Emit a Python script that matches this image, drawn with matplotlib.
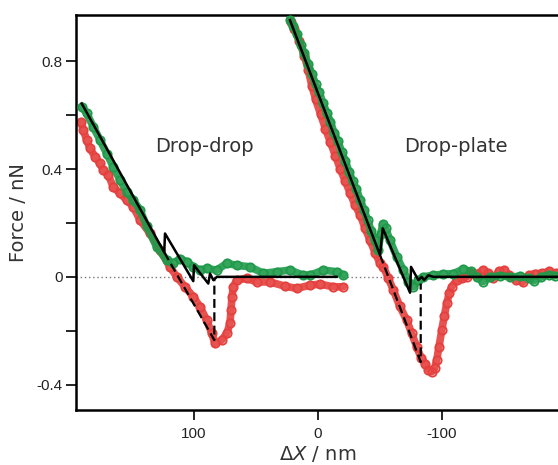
import matplotlib
matplotlib.use("Agg")
import matplotlib.pyplot as plt

# Drop-drop (left curves)
dd_green_x = [190.6, 186.5, 181.2, 175.8, 170.4, 165.1, 159.7, 154.3, 149.0, 143.5, 138.1, 130.1,
              122.0, 116.7, 111.3, 105.9, 100.6, 95.2, 89.8, 81.7, 73.6, 65.6, 54.8, 44.1, 33.3,
              22.6, 11.9, 6.5, -4.3, -15.1, -20.4]
dd_green_y = [0.632, 0.607, 0.557, 0.508, 0.458, 0.409, 0.360, 0.316, 0.285, 0.248, 0.188, 0.111,
              0.062, 0.050, 0.068, 0.056, 0.037, 0.025, 0.031, 0.025, 0.050, 0.043, 0.037, 0.013, 0.019,
              0.025, 0.006, 0.006, 0.025, 0.019, 0.006]
dd_red_x = [191.1, 189.3, 186.5, 183.9, 179.8, 175.8, 173.1, 169.1, 165.1, 159.7, 154.3, 149.0,
            143.5, 135.5, 127.4, 119.4, 113.9, 107.3, 100.6, 95.2, 89.8, 85.7, 83.1, 77.7, 73.6,
            71.0, 70.2, 69.4, 68.3, 65.6, 57.5, 49.4, 38.7, 26.4, 17.2, 6.5, -1.6, -12.3, -20.4]
dd_red_y = [0.576, 0.545, 0.508, 0.477, 0.446, 0.421, 0.396, 0.378, 0.334, 0.310, 0.285, 0.260,
            0.211, 0.161, 0.099, 0.037, 0.0, -0.037, -0.074, -0.111, -0.161, -0.210, -0.247, -0.235, -0.210,
            -0.173, -0.124, -0.074, -0.037, -0.012, -0.006, -0.019, -0.019, -0.035, -0.043, -0.031, -0.027, -0.037, -0.037]
dd_fit_x = [190.6, 124.0, 123.4, 100.6, 100.0, 88.5, 87.1, 84.4, 81.5, -15.0]
dd_fit_y = [0.644, 0.091, 0.161, -0.016, 0.043, -0.025, 0.012, -0.012, 0.0, 0.0]
dd_dash_x = [124.0, 83.6, 83.6]
dd_dash_y = [0.091, -0.235, -0.005]

# Drop-plate (right curves)
dp_green_x = [23.0, 20.0, 17.0, 14.0, 11.0, 8.0, 5.0, 2.0, -1.0, -4.0, -7.0, -10.0, -13.0, -16.0,
              -19.0, -22.0, -25.0, -28.0, -31.0, -34.0, -37.0, -40.0, -43.0, -46.0, -48.6, -50.5,
              -52.2, -54.5, -58.0, -63.5, -68.8, -72.8, -76.9, -80.9, -84.9, -93.0, -101.0, -109.0,
              -117.0, -123.0, -128.0, -133.0, -139.0, -147.0, -155.0, -163.0, -170.0, -174.0, -180.0,
              -186.0, -191.0]
dp_green_y = [0.955, 0.93, 0.90, 0.86, 0.83, 0.79, 0.755, 0.715, 0.685, 0.645, 0.61, 0.575, 0.535, 0.505,
              0.465, 0.43, 0.39, 0.355, 0.325, 0.285, 0.25, 0.21, 0.17, 0.135, 0.10, 0.16,
              0.195, 0.18, 0.136, 0.074, 0.025, -0.019, -0.037, -0.012, 0.0, 0.006, 0.010, 0.012,
              0.028, 0.02, 0.0, -0.018, 0.0, 0.004, 0.0, 0.002, -0.005, -0.015, 0.0,
              0.008, 0.004]
dp_red_x = [22.0, 19.0, 15.0, 11.0, 8.0, 5.0, 2.0, -2.0, -6.0, -10.0, -14.0, -18.0, -22.0, -26.0,
            -30.0, -34.0, -38.0, -42.0, -46.0, -50.0, -52.7, -56.7, -60.7, -66.0, -71.5, -75.5,
            -79.6, -83.0, -86.3, -89.0, -91.7, -94.0, -95.7, -97.5, -99.8, -101.8, -103.8, -105.8,
            -107.8, -111.8, -116.0, -120.0, -124.0, -128.0, -133.0, -137.0, -141.0, -146.0, -150.0,
            -154.0, -160.0, -165.0, -170.0, -175.0, -181.0, -186.0, -192.0]
dp_red_y = [0.945, 0.92, 0.875, 0.82, 0.77, 0.71, 0.66, 0.605, 0.55, 0.50, 0.45, 0.40, 0.355, 0.31,
            0.265, 0.23, 0.18, 0.135, 0.09, 0.05, 0.037, -0.005, -0.049, -0.11, -0.161, -0.21,
            -0.26, -0.30, -0.322, -0.345, -0.353, -0.34, -0.309, -0.26, -0.198, -0.145, -0.099, -0.06,
            -0.037, -0.012, -0.006, 0.0, 0.015, 0.01, 0.025, 0.015, -0.005, 0.02, 0.025,
            0.005, -0.012, -0.02, 0.005, 0.012, 0.013, 0.02, 0.013]
dp_fit_x = [22.6, -50.0, -52.2, -74.2, -75.0, -80.9, -83.6, -85.5, -89.0, -93.0, -200.0]
dp_fit_y = [0.953, 0.081, 0.180, -0.059, 0.037, -0.012, 0.0, -0.012, 0.006, 0.0, 0.0]
dp_dash_x = [-50.0, -82.8, -82.8]
dp_dash_y = [0.081, -0.316, -0.025]

xticks = [100, 0, -100]
yticks = [0.8, 0.4, 0, -0.4]
yticklabels = ["0.8", "0.4", "0", "-0.4"]
yminor = [0.6, 0.2, -0.2]

red = "#e5403d"
green = "#1f9a4a"

fig = plt.figure(figsize=(5.58, 4.65), dpi=100)
ax = fig.add_axes([0.137, 0.118, 0.863, 0.8495])

ax.axhline(0, color="#777777", lw=1.0, ls=(0, (1, 2)), zorder=1)

for xs, ys in [(dd_red_x, dd_red_y), (dp_red_x, dp_red_y)]:
    ax.plot(xs, ys, color=red, lw=5.5, alpha=0.9, solid_capstyle="round", solid_joinstyle="round", zorder=2)
    ax.plot(xs, ys, "o", ms=6, mfc="none", mec=red, mew=1.3, zorder=2)
for xs, ys in [(dd_green_x, dd_green_y), (dp_green_x, dp_green_y)]:
    ax.plot(xs, ys, color=green, lw=5.5, alpha=0.9, solid_capstyle="round", solid_joinstyle="round", zorder=3)
    ax.plot(xs, ys, "o", ms=6, mfc="none", mec=green, mew=1.3, zorder=3)

ax.plot(dd_fit_x, dd_fit_y, color="black", lw=1.8, zorder=4)
ax.plot(dp_fit_x, dp_fit_y, color="black", lw=1.8, zorder=4)
ax.plot(dd_dash_x, dd_dash_y, color="black", lw=1.6, ls=(0, (4, 2)), zorder=4)
ax.plot(dp_dash_x, dp_dash_y, color="black", lw=1.6, ls=(0, (4, 2)), zorder=4)

ax.text(91.9, 0.464, "Drop-drop", fontsize=14, color="#333333", ha="center", va="baseline",
        family="DejaVu Sans")
ax.text(-111, 0.464, "Drop-plate", fontsize=14, color="#333333", ha="center", va="baseline",
        family="DejaVu Sans")

ax.set_xlim(194.8, -193.5)
ax.set_ylim(-0.495, 0.972)

ax.spines["right"].set_visible(False)
for s in ["left", "bottom", "top"]:
    ax.spines[s].set_linewidth(1.8)

ax.set_xticks(xticks)
ax.set_xticklabels([str(v) for v in xticks], family="Liberation Sans", fontsize=11, color="#222222")
ax.set_yticks(yticks)
ax.set_yticklabels(yticklabels, family="Liberation Sans", fontsize=11, color="#222222")
ax.set_yticks(yminor, minor=True)
ax.tick_params(axis="both", which="both", direction="out", length=7, width=1.2, pad=3)
ax.tick_params(axis="x", pad=5)

ax.set_ylabel("Force / nN", fontsize=14, color="#333333", family="DejaVu Sans", labelpad=6)
ax.set_xlabel(r"$\mathit{\Delta X}$ / nm", fontsize=14, color="#333333", family="DejaVu Sans", labelpad=2)

fig.savefig("out.png", dpi=100)
